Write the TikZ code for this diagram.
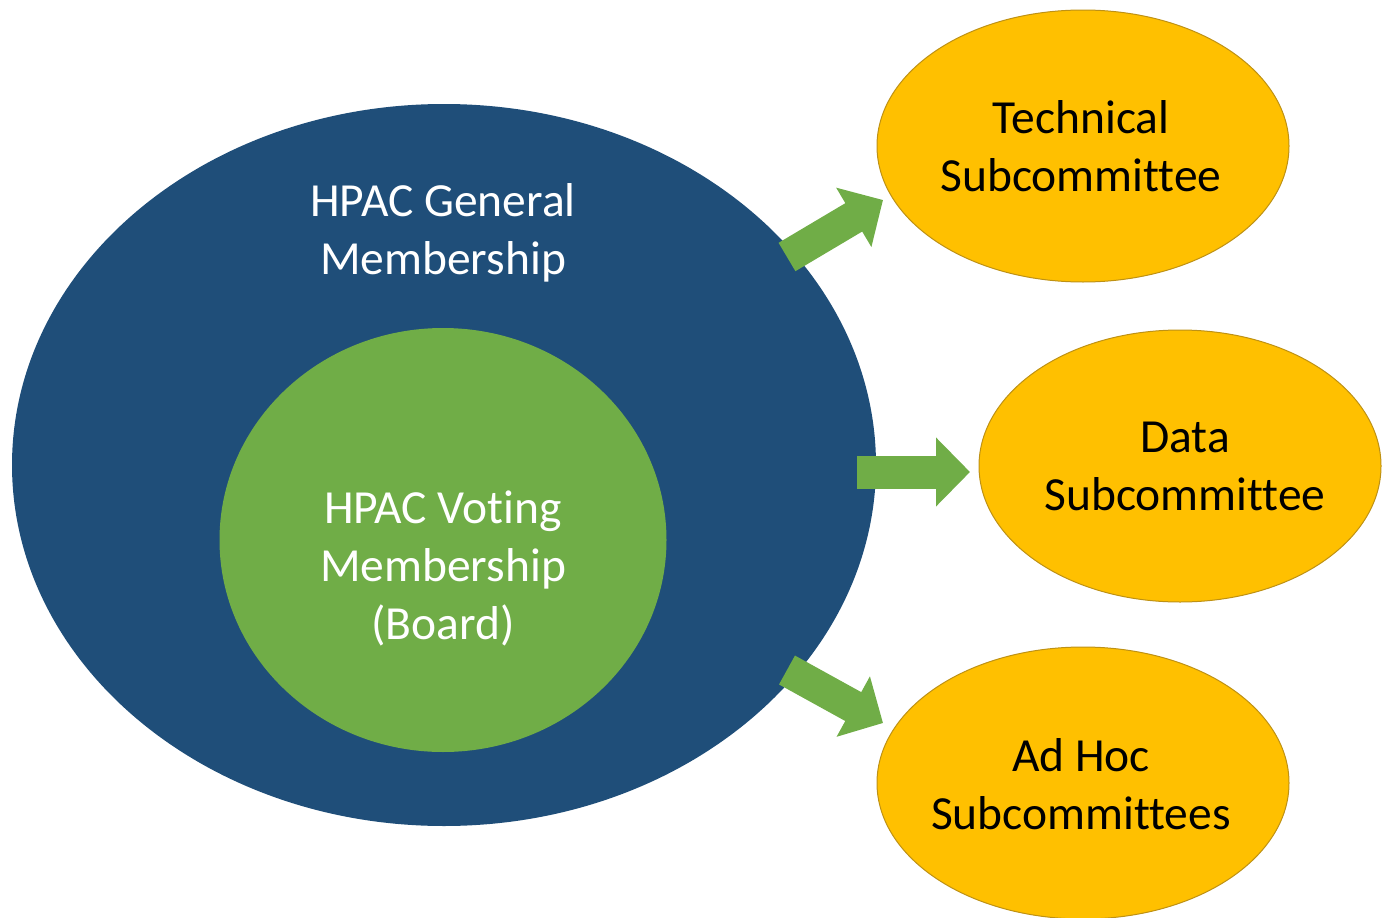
\documentclass[tikz,border=0pt]{standalone}
\usepackage{fontspec}
\setmainfont[Ligatures=NoCommon]{Carlito}
\usetikzlibrary{shapes.geometric,arrows.meta}
\definecolor{hblue}{RGB}{31,78,121}
\definecolor{hgreen}{RGB}{112,173,71}
\definecolor{hyellow}{RGB}{255,192,0}
\definecolor{hgold}{RGB}{190,145,20}
\tikzset{
  oval/.style={ellipse, inner sep=0pt},
  subc/.style={oval, fill=hyellow, draw=hgold, line width=1pt, minimum width=412pt, minimum height=272pt},
  txt/.style={align=center, font=\fontsize{47.5}{58}\selectfont},
  blockarrow/.style={draw=hgreen, line width=33pt, -{Triangle[length=34pt,width=67pt]}},
}
\begin{document}
\begin{tikzpicture}[x=1pt,y=-1pt]
\useasboundingbox (0,0) rectangle (1382,918);
\node[oval, fill=hblue, minimum width=864pt, minimum height=722pt] (gen) at (444,465) {};
\node[oval, fill=hgreen, minimum width=447pt, minimum height=424pt] (vote) at (443,540) {};
\node[txt, text=white] (gentxt) at (443,233) {HPAC General\\Membership};
\node[txt, text=white] (votetxt) at (443,568) {HPAC Voting\\Membership\\(Board)};
\node[subc] (tech) at (1083,146) {};
\node[txt] (techtxt) at (1081,146) {Technical\\Subcommittee};
\node[subc, minimum width=402pt] (data) at (1180,466) {};
\node[txt] (datatxt) at (1185,466) {Data\\Subcommittee};
\node[subc] (adhoc) at (1083,783) {};
\node[txt] (adhoctxt) at (1081,784) {Ad Hoc\\Subcommittees};
\coordinate (a1s) at (787,257);
\coordinate (a1e) at (883,200);
\coordinate (a2s) at (857,472);
\coordinate (a2e) at (970,472);
\coordinate (a3s) at (787,670);
\coordinate (a3e) at (883,723);
\draw[blockarrow] (a1s) -- (a1e);
\draw[blockarrow] (a2s) -- (a2e);
\draw[blockarrow] (a3s) -- (a3e);
\end{tikzpicture}
\end{document}
